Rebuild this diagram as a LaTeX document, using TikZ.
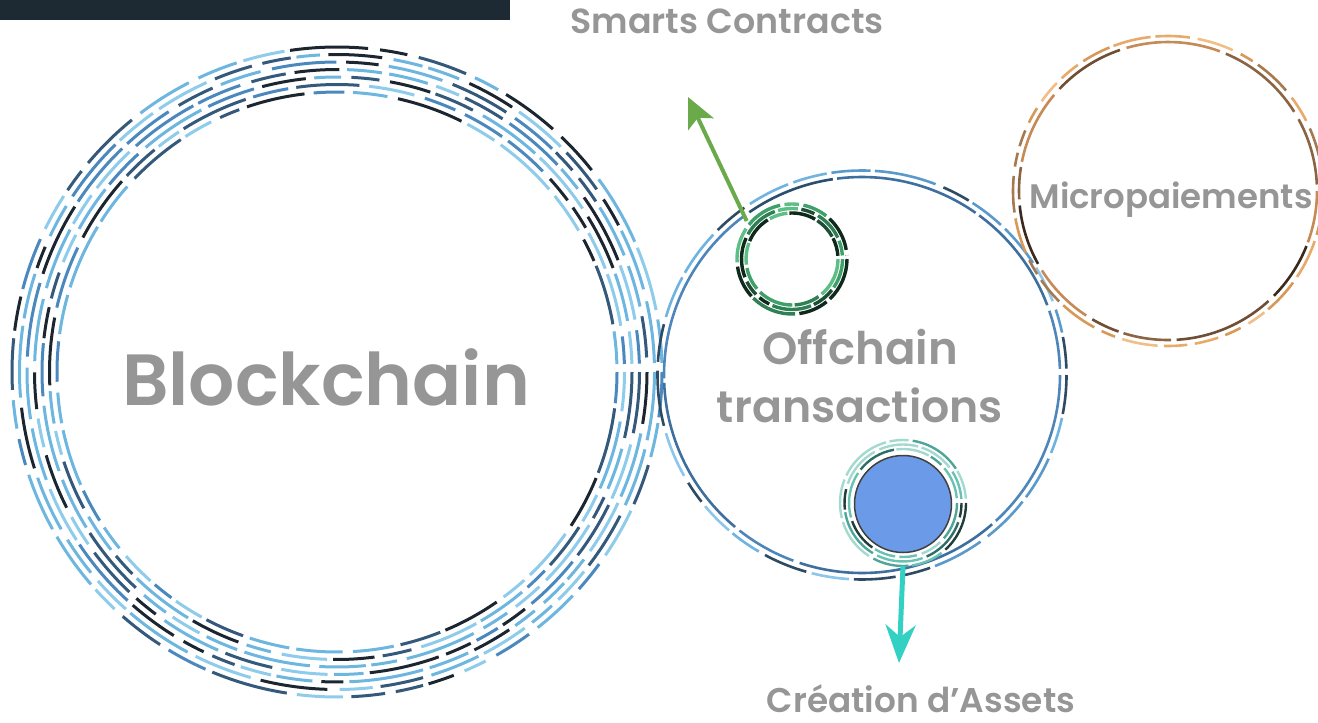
\documentclass[tikz,border=0pt]{standalone}
\usepackage{fontspec}
\usepackage{graphicx}
\setmainfont{Poppins}[BoldFont={* SemiBold}]
\usetikzlibrary{arrows.meta}
% palettes
\definecolor{bc1}{HTML}{1C2630}\definecolor{bc2}{HTML}{34597A}\definecolor{bc3}{HTML}{4A88BE}
\definecolor{bc4}{HTML}{6DB6DF}\definecolor{bc5}{HTML}{8FCBEA}\definecolor{bc6}{HTML}{6DB6DF}
\definecolor{oi1}{HTML}{3F6F9F}\definecolor{oi2}{HTML}{4F86BA}\definecolor{oi3}{HTML}{2A4E6E}
\definecolor{oo1}{HTML}{6FB3E0}\definecolor{oo2}{HTML}{5A9ACB}\definecolor{oo3}{HTML}{8CC6EA}\definecolor{oo4}{HTML}{2F4A63}
\definecolor{mi1}{HTML}{8B6444}\definecolor{mi2}{HTML}{6E4E34}\definecolor{mi3}{HTML}{C58A55}\definecolor{mi4}{HTML}{3B2A1E}
\definecolor{mo1}{HTML}{E6AA6A}\definecolor{mo2}{HTML}{D89858}\definecolor{mo3}{HTML}{F0BE86}\definecolor{mo4}{HTML}{A67A50}
\definecolor{gr1}{HTML}{1F4E37}\definecolor{gr2}{HTML}{2F8055}\definecolor{gr3}{HTML}{5DBE86}\definecolor{gr4}{HTML}{0F2A1D}\definecolor{gr5}{HTML}{3FA06A}
\definecolor{tl1}{HTML}{6CC2B2}\definecolor{tl2}{HTML}{2F6E68}\definecolor{tl3}{HTML}{A3D9CF}\definecolor{tl4}{HTML}{1F3D3A}\definecolor{tl5}{HTML}{4FA597}
\definecolor{txtgray}{HTML}{969696}
\definecolor{topbar}{HTML}{1E2A33}
\definecolor{arrowgreen}{HTML}{6AAA4B}
\definecolor{arrowteal}{HTML}{33D1C4}
\definecolor{assetblue}{HTML}{6B9BE8}
% segmented ring: cx cy r lw minseg maxseg gap palette ncolors
\newcommand\segring[9]{%
  \def\curang{0}%
  \loop
    \pgfmathsetmacro\seglen{#5+rnd*(#6-#5)}%
    \pgfmathsetmacro\endang{min(\curang+\seglen,360-#7)}%
    \pgfmathtruncatemacro\ci{random(1,#9)}%
    \draw[color=#8\ci, line width=#4] ({#1+#3*cos(\curang)},{#2+#3*sin(\curang)}) arc[start angle=\curang, end angle=\endang, radius=#3];%
    \pgfmathsetmacro\curang{\endang+#7*(0.6+0.8*rnd)}%
  \ifdim\curang pt<357pt\repeat
}
\tikzset{
  lbl/.style={inner sep=0pt, text=txtgray, font=\bfseries},
  zone/.style={circle, inner sep=0pt},
}
\begin{document}
\begin{tikzpicture}[x=1pt,y=-1pt]
\pgfmathsetseed{42}
\useasboundingbox (0,0) rectangle (1318,723);
\fill[topbar] (0,0) rectangle (510,20);
% Blockchain rings
\foreach \r in {280,287.5,295,302.5,310,317.5,325}{\segring{337}{372}{\r}{3pt}{4}{14}{1.6}{bc}{6}}
\node[zone, minimum size=656pt] (blockchain) at (337,372) {};
% Offchain rings
\segring{862}{375}{198}{2.6pt}{15}{60}{1.8}{oi}{3}
\segring{862}{375}{204.5}{2.6pt}{6}{18}{1.8}{oo}{4}
\node[zone, minimum size=410pt] (offchain) at (862,375) {};
% Micropaiements rings
\segring{1168}{191}{149}{2.6pt}{10}{40}{2.5}{mi}{4}
\segring{1168}{191}{155}{2.6pt}{5}{15}{2.5}{mo}{4}
\node[zone, minimum size=312pt] (micro) at (1168,191) {};
% Smart contract circle (green)
\foreach \r in {46,50.5,55}{\segring{792}{259}{\r}{3.4pt}{12}{50}{4}{gr}{5}}
\node[zone, minimum size=118pt] (smart) at (792,259) {};
% Asset circle (blue)
\foreach \r in {54,58.5,63}{\segring{903}{503}{\r}{2.4pt}{12}{50}{4}{tl}{5}}
\node[zone, minimum size=126pt] (assetring) at (903,503) {};
\node[circle, fill=assetblue, draw=black!75, line width=1.5pt, minimum width=97pt, minimum height=94pt, inner sep=0pt] (asset) at (903,504) {};
% Arrows
\coordinate (scTip) at (688,97);
\coordinate (caTip) at (899,663);
\draw[arrowgreen, line width=4pt, -{Stealth[length=30pt, width=28pt, inset=7pt]}] (smart.140) -- (scTip);
\draw[arrowteal, line width=5pt, -{Stealth[length=38pt, width=30pt, inset=12pt]}] (assetring.south) -- (caTip);
% Labels
\node[lbl] (tsc) at (727,21) {\resizebox{313pt}{!}{Smarts Contracts}};
\node[lbl] (tbc) at (326,377) {\resizebox{408pt}{!}{Blockchain}};
\node[lbl] (toff1) at (860,347) {\resizebox{196pt}{!}{Offchain}};
\node[lbl] (toff2) at (860,405) {\resizebox{286pt}{!}{transactions}};
\node[lbl] (tmic) at (1171,200) {\resizebox{283pt}{!}{Micropaiements}};
\node[lbl, anchor=base] (tca) at (921,712) {\resizebox{308pt}{!}{Création d’Assets}};
\end{tikzpicture}
\end{document}
